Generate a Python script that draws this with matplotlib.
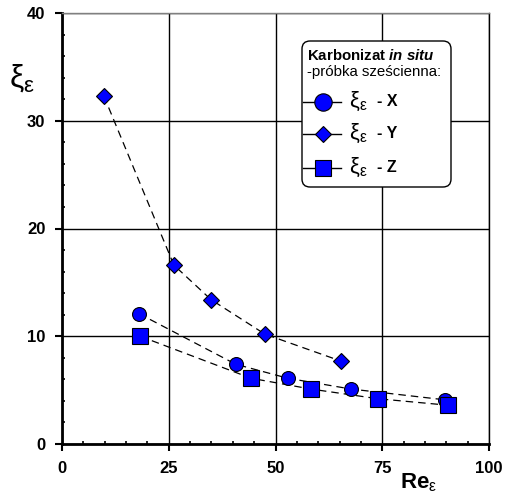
import matplotlib
matplotlib.use("Agg")
import matplotlib.pyplot as plt
import numpy as np
from matplotlib.patches import FancyBboxPatch
from matplotlib.lines import Line2D

plt.rcParams['font.family'] = ['Liberation Sans', 'DejaVu Sans']
plt.rcParams['mathtext.fontset'] = 'custom'
plt.rcParams['mathtext.rm'] = 'Liberation Sans'
plt.rcParams['mathtext.it'] = 'Liberation Sans:italic'
plt.rcParams['mathtext.bf'] = 'Liberation Sans:bold'
plt.rcParams['mathtext.bfit'] = 'Liberation Sans:italic:bold'

# DATA
re_x = [18.0, 40.7, 52.9, 67.7, 89.7]
xi_x = [12.1, 7.4, 6.1, 5.1, 4.1]

re_y = [9.8, 26.2, 34.9, 47.5, 65.3]
xi_y = [32.3, 16.6, 13.4, 10.2, 7.7]

re_z = [18.3, 44.3, 58.3, 74.0, 90.4]
xi_z = [10.0, 6.1, 5.1, 4.2, 3.6]

x_ticks = [0, 25, 50, 75, 100]
y_ticks = [0, 10, 20, 30, 40]

W, H = 505, 499
fig = plt.figure(figsize = (W / 100, H / 100), dpi = 100)
ax = fig.add_axes([62 / W, 1 - 444 / H, 427 / W, 431 / H])

def px(x, y):
    # pixel position -> figure fraction
    return x / W, 1 - y / H

# dashed lines joining the points of each series
for xs, ys in [(re_y, xi_y), (re_x, xi_x), (re_z, xi_z)]:
    ax.plot(xs, ys, color = 'black', lw = 0.9, dashes = (6, 4), zorder = 3)

blue = '#0000ff'
ax.plot(re_x, xi_x, 'o', ms = 10, mfc = blue, mec = 'black', mew = 0.8, ls = 'none', zorder = 4)
ax.plot(re_y, xi_y, 'D', ms = 8, mfc = blue, mec = 'black', mew = 0.8, ls = 'none', zorder = 4)
ax.plot(re_z, xi_z, 's', ms = 11, mfc = blue, mec = 'black', mew = 0.8, ls = 'none', zorder = 4)

ax.set_xlim(0, 100)
ax.set_ylim(0, 40)
ax.set_xticks(x_ticks)
ax.set_yticks(y_ticks)
ax.set_xticks(np.arange(0, 101, 5), minor = True)
ax.set_yticks(np.arange(0, 41, 2), minor = True)
ax.grid(which = 'major', color = 'black', lw = 1)
ax.set_axisbelow(True)

ax.tick_params(which = 'major', direction = 'out', length = 5, width = 1.5, labelsize = 12, pad = 7)
ax.tick_params(which = 'minor', direction = 'in', length = 2.5, width = 1.2)
for lab in ax.get_xticklabels() + ax.get_yticklabels():
    lab.set_fontweight('bold')

ax.spines['left'].set_linewidth(2)
ax.spines['bottom'].set_linewidth(2)
ax.spines['top'].set_linewidth(1)
ax.spines['top'].set_color('#808080')
ax.spines['right'].set_linewidth(1)

# axis labels
fig.text(*px(9, 78), r'$\mathregular{ξ_ε}$', fontsize = 23, va = 'center', ha = 'left')
fig.text(*px(400, 483), r'$\mathbf{Re}_{\mathregular{ε}}$', fontsize = 16, va = 'center', ha = 'left')

# legend drawn by hand
x0, y0 = px(302, 187)
x1, y1 = px(451, 41)
box = FancyBboxPatch((x0, y0), x1 - x0, y1 - y0, boxstyle = 'round,pad=0,rounding_size=0.016',
                     transform = fig.transFigure, facecolor = 'white', edgecolor = 'black', lw = 1, zorder = 10)
fig.patches.append(box)

fig.text(*px(307, 56), r'$\mathbf{Karbonizat}\ \mathbfit{in\ situ}$', fontsize = 10.8, va = 'center', zorder = 11)
fig.text(*px(307, 72), '-próbka sześcienna:', fontsize = 10.8, va = 'center', zorder = 11)

entries = [('o', 12.5, 'X', 102), ('D', 8, 'Y', 134), ('s', 11, 'Z', 168)]
for marker, ms, name, yy in entries:
    lx0, ly = px(303, yy)
    lx1, _ = px(341, yy)
    lm, _ = px(323, yy)
    fig.add_artist(Line2D([lx0, lx1], [ly, ly], color = 'black', lw = 1, zorder = 11))
    fig.add_artist(Line2D([lm], [ly], marker = marker, ms = ms, mfc = blue, mec = 'black', mew = 0.8, zorder = 12))
    fig.text(*px(349, yy - 1), r'$\mathregular{ξ_ε}$', fontsize = 16, va = 'center', zorder = 11)
    fig.text(*px(377, yy), '- ' + name, fontsize = 11.5, fontweight = 'bold', va = 'center', zorder = 11)

fig.savefig('out.png', dpi = 100)
